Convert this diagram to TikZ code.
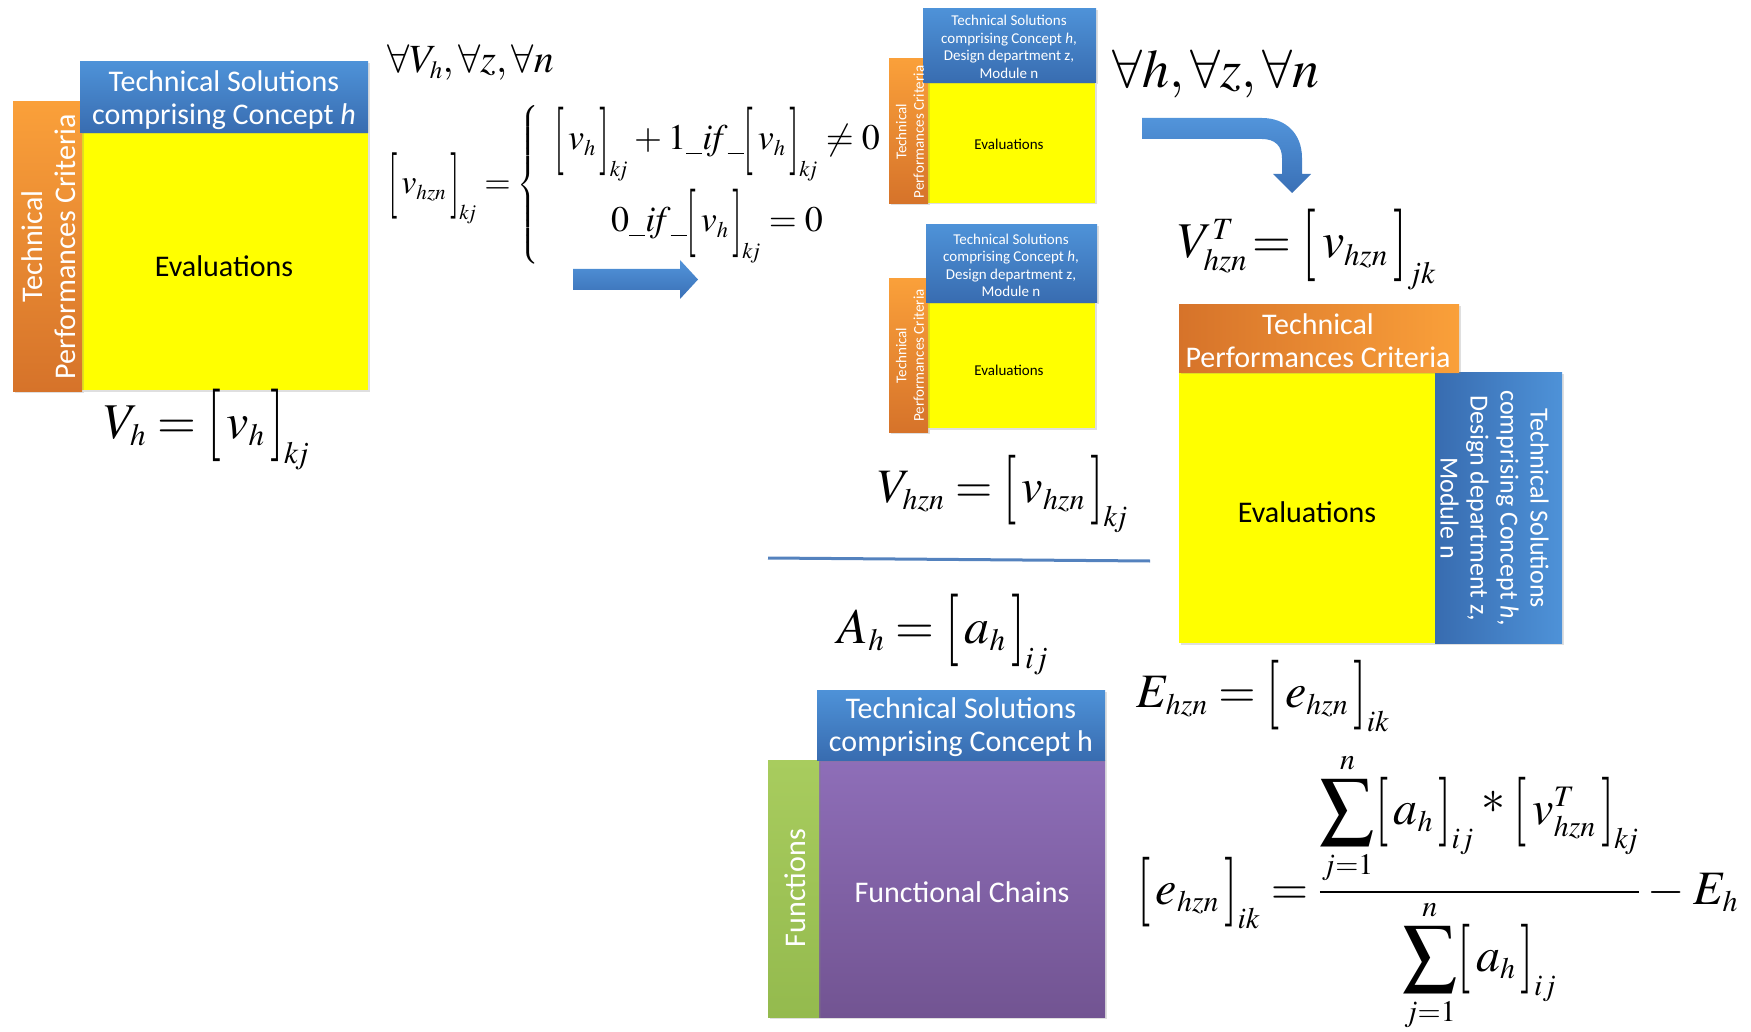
\documentclass[tikz,border=0pt]{standalone}
\usepackage{mathptmx}
\usepackage[no-math]{fontspec}
\setmainfont{Liberation Serif}
\newfontfamily\cfont{Carlito}
\usepackage{graphicx}
\usetikzlibrary{shadows}
\renewcommand{\defaultscriptratio}{0.62}
\renewcommand{\defaultscriptscriptratio}{0.48}

\definecolor{blueL}{RGB}{78,146,216}
\definecolor{blueD}{RGB}{56,108,176}
\definecolor{orangeL}{RGB}{250,160,58}
\definecolor{orangeD}{RGB}{214,115,42}
\definecolor{yel}{RGB}{255,255,0}
\definecolor{grnL}{RGB}{168,204,94}
\definecolor{grnD}{RGB}{148,186,78}
\definecolor{purL}{RGB}{142,110,184}
\definecolor{purD}{RGB}{114,84,146}
\definecolor{arrL}{RGB}{82,148,218}
\definecolor{arrD}{RGB}{58,112,182}
\definecolor{lineC}{RGB}{84,130,190}

\newcommand{\sqb}[2]{\mathopen{\vcenter{\hbox{\scalebox{1}[#1]{$[$}}}}#2\mathclose{\vcenter{\hbox{\scalebox{1}[#1]{$]$}}}}}
\newcommand{\usc}{\rule[-0.12em]{0.45em}{0.045em}}
\newcommand{\bsum}{\mathop{\vcenter{\hbox{\scalebox{1.12}{$\displaystyle\sum$}}}}\limits}
\newcommand{\kj}{k\!j}
\newcommand{\mystar}{\mathbin{\raisebox{0.22em}{$\ast$}}}

\tikzset{
  box/.style={rectangle, inner sep=0pt, outer sep=0pt,
    drop shadow={shadow xshift=1.5pt, shadow yshift=-1.5pt, opacity=0.25}},
  bluebox/.style={box, top color=blueL, bottom color=blueD},
  blueboxh/.style={box, left color=blueD, right color=blueL},
  orangebox/.style={box, top color=orangeL, bottom color=orangeD},
  orangeboxh/.style={box, left color=orangeD, right color=orangeL},
  yellowbox/.style={box, fill=yel},
  greenbox/.style={box, top color=grnL, bottom color=grnD},
  purplebox/.style={box, top color=purL, bottom color=purD},
  wtxt/.style={inner sep=0pt, text=white, align=center},
  ktxt/.style={inner sep=0pt, text=black, align=center},
  fbig/.style={font=\cfont\fontsize{30}{33}\selectfont},
  fsmall/.style={font=\cfont\fontsize{15}{17.5}\selectfont},
  fmid/.style={font=\cfont\fontsize{26}{30}\selectfont},
  math/.style={inner sep=0pt, text=black},
  arrowshape/.style={top color=arrL, bottom color=arrD, draw=none},
}

\begin{document}
\begin{tikzpicture}[x=1pt,y=-1pt]
\useasboundingbox (0,0) rectangle (1751,1032);
\thickmuskip=4mu plus 2mu
\medmuskip=3mu plus 2mu

% ---------- Box A ----------
\node[yellowbox, minimum width=286pt, minimum height=257pt] (yA) at (225,261.5) {};
\node[orangebox, minimum width=69pt, minimum height=289pt] (oA) at (47.5,246.5) {};
\node[bluebox, minimum width=288pt, minimum height=71pt] (bA) at (224,97.5) {};
\node[wtxt, fbig] (bAt) at (224,100) {Technical Solutions\\comprising Concept \textit{h}};
\node[wtxt, fbig, rotate=90] (oAt) at (49,246.5) {Technical\\Performances Criteria};
\node[ktxt, fbig] (yAt) at (224,266) {Evaluations};

% ---------- Box B ----------
\node[yellowbox, minimum width=167pt, minimum height=120pt] (yB) at (1011.5,143) {};
\node[orangebox, minimum width=39pt, minimum height=145pt] (oB) at (908.5,131.5) {};
\node[bluebox, minimum width=173pt, minimum height=74pt] (bB) at (1009.5,46) {};
\node[wtxt, fsmall] (bBt) at (1009,47) {Technical Solutions\\comprising Concept \textit{h},\\Design department z,\\Module n};
\node[wtxt, fsmall, rotate=90] (oBt) at (910,132) {Technical\\Performances Criteria};
\node[ktxt, fsmall] (yBt) at (1009,144) {Evaluations};

% ---------- Box C ----------
\node[yellowbox, minimum width=167pt, minimum height=125pt] (yC) at (1011.5,365.5) {};
\node[orangebox, minimum width=39pt, minimum height=153pt] (oC) at (908.5,355.5) {};
\node[bluebox, minimum width=171pt, minimum height=78pt] (bC) at (1011.5,264) {};
\node[wtxt, fsmall] (bCt) at (1011,265.5) {Technical Solutions\\comprising Concept \textit{h},\\Design department z,\\Module n};
\node[wtxt, fsmall, rotate=90] (oCt) at (910,355.5) {Technical\\Performances Criteria};
\node[ktxt, fsmall] (yCt) at (1009,370) {Evaluations};

% ---------- Box D (transposed) ----------
\node[yellowbox, minimum width=256pt, minimum height=271pt] (yD) at (1307,507.5) {};
\node[blueboxh, minimum width=127pt, minimum height=271pt] (bD) at (1498.5,507.5) {};
\node[orangeboxh, minimum width=280pt, minimum height=67pt] (oD) at (1319,338.5) {};
\node[wtxt, fbig] (oDt) at (1318,341) {Technical\\Performances Criteria};
\node[wtxt, fmid, rotate=-90] (bDt) at (1494.5,508) {Technical Solutions\\comprising Concept \textit{h},\\Design department z,\\Module n};
\node[ktxt, fbig] (yDt) at (1307,512) {Evaluations};

% ---------- Box E (functional chains) ----------
\node[purplebox, minimum width=286pt, minimum height=257pt] (pE) at (962,888.5) {};
\node[greenbox, minimum width=51pt, minimum height=257pt] (gE) at (793.5,888.5) {};
\node[bluebox, minimum width=288pt, minimum height=70pt] (bE) at (961,725) {};
\node[wtxt, fbig] (bEt) at (961,727) {Technical Solutions\\comprising Concept h};
\node[wtxt, fbig, rotate=90] (gEt) at (795,888) {Functions};
\node[wtxt, fbig] (pEt) at (962,892) {Functional Chains};

% ---------- Arrows ----------
\shade[arrowshape] (573,269) -- (680,269) -- (680,260) -- (698,279.5) -- (680,299) -- (680,290) -- (573,290) -- cycle;
\shade[arrowshape] (1142,118) -- (1262,118) .. controls (1286,118) and (1302,134) .. (1302,158)
  -- (1302,174) -- (1311,174) -- (1292,193) -- (1273,174) -- (1282,174) -- (1282,158)
  .. controls (1282,146) and (1275,139) .. (1262,139) -- (1142,139) -- cycle;

% ---------- Separator line ----------
\coordinate (lnA) at (768,558);
\coordinate (lnB) at (1150,561);
\draw[lineC, line width=3pt] (lnA) -- (lnB);

% ---------- Formulas ----------
\node[math, anchor=base west, font=\fontsize{40}{46}\selectfont] (f1) at (387,73)
  {$\forall V_h,\forall z,\forall n$};
\node[math, anchor=base west, font=\fontsize{34}{40}\selectfont] (f2) at (388,194)
  {$\sqb{1.95}{\,v_{hzn}\,}_{\kj} =$};
\node[math, font=\fontsize{24}{30}\selectfont] (brace) at (529,185)
  {$\left\{\vcenter{\hbox{\rule{0pt}{160pt}}}\right.$};
\node[math, anchor=base, font=\fontsize{36}{42}\selectfont] (row1) at (717,150)
  {$\sqb{1.9}{\,v_h\,}_{\kj}+1\usc\mathit{if}\usc\sqb{1.9}{\,v_h\,}_{\kj}\neq 0$};
\node[math, anchor=base, font=\fontsize{36}{42}\selectfont] (row2) at (717,232)
  {$0\usc\mathit{if}\usc\sqb{1.9}{\,v_h\,}_{\kj}=0$};
\node[math, anchor=base west, font=\fontsize{54}{60}\selectfont] (f3) at (1112,88)
  {$\forall h,\forall z,\forall n$};
\node[math, anchor=base, font=\fontsize{50}{58}\selectfont] (f4) at (207,438)
  {$V_h=\sqb{1.45}{\,v_h\,}_{\kj}$};
\node[math, anchor=base, font=\fontsize{48}{56}\selectfont] (f5) at (1003,502)
  {$V_{hzn}=\sqb{1.45}{\,v_{hzn}\,}_{\kj}$};
\node[math, anchor=base, font=\fontsize{50}{58}\selectfont] (f6) at (1307,258)
  {$V_{hzn}^{T}\!=\sqb{1.45}{\,v_{hzn}\,}_{jk}$};
\node[math, anchor=base, font=\fontsize{50}{58}\selectfont] (f7) at (943,643)
  {$A_h=\sqb{1.45}{\,a_h\,}_{ij}$};
\node[math, anchor=base, font=\fontsize{48}{56}\selectfont] (f8) at (1263,707)
  {$E_{hzn}=\sqb{1.45}{\,e_{hzn}\,}_{ik}$};
\node[math, anchor=base west, font=\fontsize{48}{54}\selectfont] (f9) at (1137,904)
  {$\displaystyle \sqb{1.45}{\,e_{hzn}\,}_{ik}=\frac{\bsum_{j=1}^{n}\sqb{1.45}{\,a_h\,}_{ij}\mystar\sqb{1.45}{\,v^{T}_{hzn}\,}_{\kj}}{\bsum_{j=1}^{n}\sqb{1.45}{\,a_h\,}_{ij}}-E_h$};
\end{tikzpicture}
\end{document}
